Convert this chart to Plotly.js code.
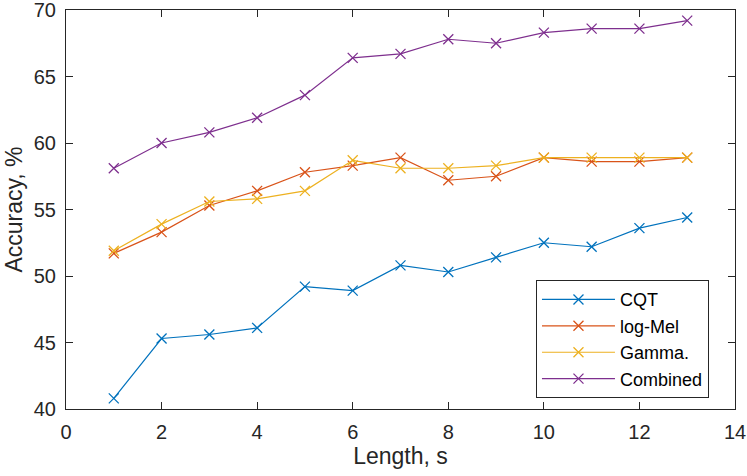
<!DOCTYPE html>
<html>
<head>
<meta charset="utf-8">
<script src="https://cdn.plot.ly/plotly-3.0.1.min.js"></script>
<style>
  html, body { margin: 0; padding: 0; background: #fff; }
  #chart { width: 747px; height: 476px; }
</style>
</head>
<body>
<div id="chart"></div>
<script>
var lengths = [1, 2, 3, 4, 5, 6, 7, 8, 9, 10, 11, 12, 13];
var cqt      = [40.8, 45.3, 45.6, 46.1, 49.2, 48.9, 50.8, 50.3, 51.4, 52.5, 52.2, 53.6, 54.4];
var logMel   = [51.7, 53.3, 55.3, 56.4, 57.8, 58.3, 58.9, 57.2, 57.5, 58.9, 58.6, 58.6, 58.9];
var gamma    = [51.9, 53.9, 55.6, 55.8, 56.4, 58.7, 58.1, 58.1, 58.3, 58.9, 58.9, 58.9, 58.9];
var combined = [58.1, 60.0, 60.8, 61.9, 63.6, 66.4, 66.7, 67.8, 67.5, 68.3, 68.6, 68.6, 69.2];

var names  = ['CQT', 'log-Mel', 'Gamma.', 'Combined'];
var colors = ['#0072BD', '#D95319', '#EDB120', '#7E2F8E'];
var series = [cqt, logMel, gamma, combined];

var data = series.map(function (ys, i) {
    return {
        x: lengths, y: ys, name: names[i],
        mode: 'lines+markers', type: 'scatter',
        line: {color: colors[i], width: 1.2},
        marker: {symbol: 'x-thin-open', size: 10, line: {color: colors[i], width: 1.3}}
    };
});

var fam = 'Liberation Sans, Arial, sans-serif';
var axisCommon = {
    showgrid: false, zeroline: false,
    showline: true, linecolor: '#262626', linewidth: 1,
    mirror: 'ticks', ticks: 'inside', ticklen: 7, tickcolor: '#262626', tickwidth: 1,
    ticklabeloverflow: 'allow',
    tickfont: {family: fam, size: 20, color: '#262626'}
};

var layout = {
    width: 747, height: 476,
    margin: {l: 66, r: 12, t: 10, b: 67},
    paper_bgcolor: '#fff', plot_bgcolor: '#fff',
    font: {family: fam, color: '#262626'},
    xaxis: Object.assign({}, axisCommon, {
        range: [0, 14], dtick: 2, tick0: 0, ticklabelstandoff: 5,
        title: {text: 'Length, s', font: {size: 23, color: '#262626'}, standoff: 5}
    }),
    yaxis: Object.assign({}, axisCommon, {
        range: [40, 70], dtick: 5, tick0: 40, ticklabelstandoff: 5,
        title: {text: 'Accuracy, %', font: {size: 23, color: '#262626'}, standoff: 4}
    }),
    showlegend: true,
    legend: {
        x: 0.7025, y: 0.027, xanchor: 'left', yanchor: 'bottom',
        bgcolor: '#fff', bordercolor: '#262626', borderwidth: 1,
        font: {family: fam, size: 18, color: '#000'},
        itemwidth: 73, tracegroupgap: 0
    }
};

Plotly.newPlot('chart', data, layout, {displayModeBar: false, staticPlot: true});
</script>
</body>
</html>
